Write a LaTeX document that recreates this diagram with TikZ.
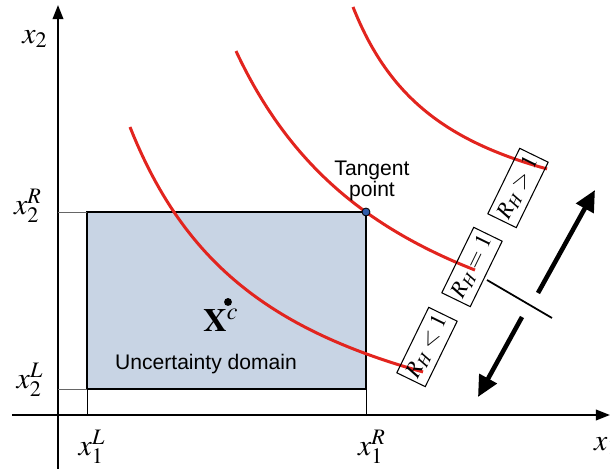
\documentclass[tikz,border=0pt]{standalone}
\usepackage{mathptmx}
\usepackage[no-math]{fontspec}
\setmainfont{Liberation Sans}
\usetikzlibrary{arrows.meta}
\definecolor{domainblue}{RGB}{200,212,228}
\definecolor{curvered}{RGB}{226,36,30}
\definecolor{dotblue}{RGB}{48,92,170}
\newcommand{\lblfont}{\fontsize{17}{19}\selectfont}

\begin{document}
\begin{tikzpicture}[x=0.02cm,y=-0.02cm,
    axis/.style={line width=1.1pt,-{Triangle[length=8pt,width=6pt]}},
    guide/.style={line width=0.5pt},
    hcurve/.style={curvered,line width=1.7pt,samples=80},
    ratio/.style={draw,line width=0.6pt,rotate=64,inner xsep=1.5pt,inner ysep=1pt,minimum height=18pt,font=\fontsize{13}{13}\selectfont},
    bigarrow/.style={line width=2.6pt,-{Triangle[length=12pt,width=11pt]}}]
    \useasboundingbox (0,0) rectangle (610,469);

    % axes
    \coordinate (ybot) at (58,469);
    \coordinate (ytop) at (58,5);
    \coordinate (xleft) at (12,415);
    \coordinate (xright) at (610,415);
    \draw[axis] (ybot) -- (ytop);
    \draw[axis] (xleft) -- (xright);
    \node[font=\lblfont] (x2) at (35,39) {$x_2$};
    \node[font=\lblfont,anchor=west] (x1) at (588,446) {$x_1$};

    % uncertainty domain
    \coordinate (LL) at (87,389);
    \coordinate (UR) at (366,212);
    \draw[fill=domainblue,line width=1.1pt] (LL) rectangle (UR);
    \draw[guide,black!60] (ytop |- UR) -- (LL |- UR);
    \draw[guide,black!60] (ytop |- LL) -- (LL);
    \draw[guide] (LL) -- (LL |- xleft);
    \draw[guide] (UR |- LL) -- (UR |- xleft);
    \node[font=\lblfont] (x2R) at (28,206) {$x_2^R$};
    \node[font=\lblfont] (x2L) at (30,380) {$x_2^L$};
    \node[font=\lblfont] (x1L) at (92,447) {$x_1^L$};
    \node[font=\lblfont] (x1R) at (372,447) {$x_1^R$};
    \node[font=\fontsize{12}{14}\selectfont] (domain) at (206,364) {Uncertainty domain};
    \node[font=\fontsize{18.5}{19}\selectfont] (xc) at (221,320) {$\mathbf{X}^c$};
    \node[circle,fill,inner sep=0pt,minimum size=4.5pt] (xcdot) at (228,302) {};

    % level curves
    \draw[hcurve] plot[domain=130:423] (\x,{494-535.75/((\x+16)/100)});
    \draw[hcurve] plot[domain=236:475] (\x,{435-691.06/((\x-56)/100)});
    \draw[hcurve] plot[domain=353:547] (\x,{249.1-232.46/((\x-257)/100)});
    \node[circle,draw,fill=dotblue,line width=0.5pt,inner sep=0pt,minimum size=4.5pt] (tp) at (UR) {};
    \node[align=center,font=\fontsize{12}{11.5}\selectfont] (tptext) at (372,181) {Tangent\\point};

    % ratio labels
    \node[ratio] (rgt) at (518,188) {$R_H>1$};
    \node[ratio] (req) at (472,267) {$R_H=1$};
    \node[ratio] (rlt) at (427,347) {$R_H<1$};
    \coordinate (sepa) at (487,280);
    \coordinate (sepb) at (552,318);
    \draw[line width=1pt] (sepa) -- (sepb);

    % directions
    \coordinate (upa) at (538,293);
    \coordinate (upb) at (595,190);
    \coordinate (dna) at (522,317);
    \coordinate (dnb) at (478,397);
    \draw[bigarrow] (upa) -- (upb);
    \draw[bigarrow] (dna) -- (dnb);
\end{tikzpicture}
\end{document}
